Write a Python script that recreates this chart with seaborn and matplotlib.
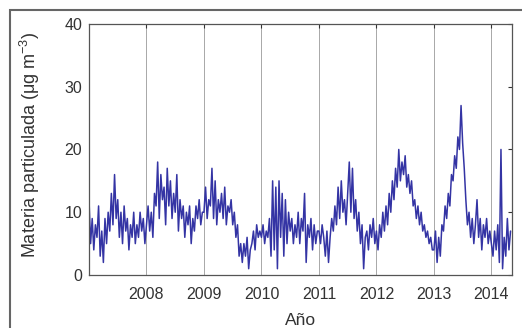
import numpy as np
import pandas as pd
import seaborn as sns
import matplotlib.pyplot as plt
from matplotlib.patches import Rectangle

# roughly 10-day samples (36 per year)
pm_2007 = [12, 5, 9, 4, 8, 6, 11, 3, 7, 2, 9, 5,
           10, 7, 13, 8, 16, 9, 12, 6, 10, 5, 11, 7,
           9, 4, 8, 6, 10, 5, 8, 6, 10, 7, 9, 5]
pm_2008 = [8, 11, 7, 10, 6, 13, 11, 18, 9, 16, 12, 14,
           8, 17, 11, 15, 9, 13, 10, 16, 7, 12, 9, 11,
           6, 10, 8, 11, 5, 9, 7, 11, 9, 12, 8, 10]
pm_2009 = [10, 14, 9, 12, 11, 17, 9, 15, 8, 12, 10, 13,
           9, 14, 8, 11, 10, 12, 8, 10, 6, 8, 3, 5,
           2, 5, 3, 6, 1, 4, 5, 7, 4, 8, 6, 7]
pm_2010 = [6, 8, 5, 7, 6, 9, 3, 15, 4, 14, 1, 15,
           6, 13, 3, 12, 5, 10, 7, 9, 5, 8, 6, 10,
           5, 9, 7, 13, 2, 8, 6, 9, 4, 8, 5, 7]
pm_2011 = [7, 5, 8, 6, 3, 7, 2, 6, 9, 7, 11, 8,
           14, 9, 15, 10, 12, 8, 13, 18, 10, 17, 9, 12,
           7, 10, 5, 8, 1, 6, 7, 4, 8, 6, 9, 5]
pm_2012 = [7, 4, 8, 6, 10, 7, 11, 8, 13, 10, 15, 12,
           17, 14, 20, 15, 18, 16, 19, 14, 16, 13, 15, 11,
           12, 9, 11, 8, 10, 7, 8, 6, 7, 5, 6, 4]
pm_2013 = [4, 7, 2, 6, 3, 8, 7, 11, 9, 13, 11, 16,
           15, 19, 17, 22, 20, 27, 21, 17, 12, 8, 10, 6,
           9, 5, 8, 12, 6, 9, 4, 8, 6, 9, 5, 7]
pm_2014 = [5, 3, 7, 4, 8, 2, 20, 1, 6, 3, 9, 4, 7]

years = [2007, 2008, 2009, 2010, 2011, 2012, 2013, 2014]
series = [pm_2007, pm_2008, pm_2009, pm_2010, pm_2011, pm_2012, pm_2013, pm_2014]

rows = []
for yr, vals in zip(years, series):
    for i, v in enumerate(vals):
        rows.append((yr + i / 36.0, v))
df = pd.DataFrame(rows, columns=['t', 'pm'])

sns.set_style('white')
plt.rcParams['font.family'] = ['Liberation Sans', 'DejaVu Sans']
plt.rcParams['mathtext.fontset'] = 'custom'
plt.rcParams['mathtext.rm'] = 'Liberation Sans'
plt.rcParams['mathtext.it'] = 'Liberation Sans'

fig = plt.figure(figsize=(5.22, 3.28), dpi=100)
ax = fig.add_axes([0.1705, 0.1616, 0.8105, 0.7654])

sns.lineplot(data=df, x='t', y='pm', ax=ax, color='#3434a4', linewidth=1.1)

ax.set_xlim(2007.0, 2014.36)
ax.set_ylim(0, 40)
ax.set_xticks([2008, 2009, 2010, 2011, 2012, 2013, 2014])
ax.set_xticklabels(['2008', '2009', '2010', '2011', '2012', '2013', '2014'])
ax.set_yticks([0, 10, 20, 30, 40])
ax.xaxis.grid(True, color='#a8a8a8', linewidth=0.7)
ax.yaxis.grid(False)
ax.tick_params(direction='in', length=3, top=True, right=True,
               labelsize=11.5, colors='#333333', pad=5)
ax.tick_params(axis='x', pad=9)
for s in ax.spines.values():
    s.set_color('#555555')
    s.set_linewidth(0.9)

ax.set_xlabel('Año', fontsize=12.5, color='#333333')
ax.set_ylabel('Materia particulada (μg m$^{-3}$)', fontsize=13, color='#333333')
ax.xaxis.set_label_coords(0.5, -0.15)
ax.yaxis.set_label_coords(-0.111, 0.52)

fig.patches.append(Rectangle((10 / 522, -0.05), 1.0, 1 - 10 / 328 + 0.05,
                             transform=fig.transFigure, fill=False,
                             edgecolor='#666666', linewidth=1.5))

fig.savefig('out.png', dpi=100)
